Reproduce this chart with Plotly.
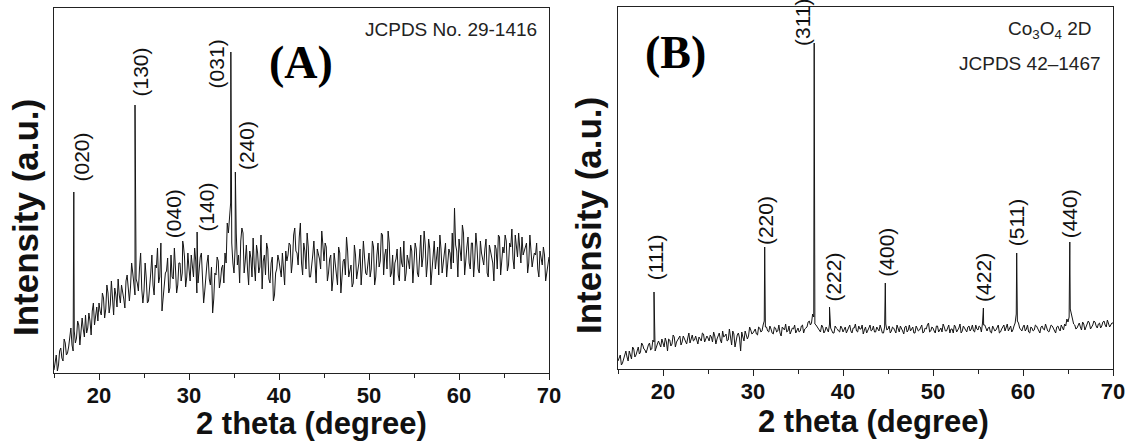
import numpy as np
import plotly.graph_objects as go

# ---- sample grids: 0.25 deg steps plus the half-steps in between ----
theta_grid = np.round(np.arange(15, 70.001, 0.25), 3)
theta_mid = np.round(np.arange(15.125, 70, 0.25), 3)

# ---- panel A (JCPDS 29-1416) ----
a_background = [
    3, 18, 8, 25, 12, 30, 20, 38, 28, 42, 35, 48, 40, 44, 58, 45, 52, 62, 48, 66,
    70, 58, 75, 64, 80, 68, 72, 85, 66, 78, 88, 74, 92, 80, 86, 100, 78, 90, 105, 84,
    82, 95, 72, 100, 88, 108, 125, 96, 62, 90, 102, 80, 118, 94, 104, 88, 110, 100, 116, 96,
    104, 118, 96, 112, 90, 116, 100, 82, 110, 94, 106, 74, 98, 112, 92, 108, 120, 150, 160, 130,
    100, 140, 118, 132, 140, 112, 104, 122, 96, 108, 128, 100, 138, 112, 98, 124, 90, 116, 78, 104,
    112, 96, 108, 122, 118, 128, 112, 145, 120, 136, 110, 130, 104, 126, 96, 118, 108, 124, 114, 142,
    112, 126, 100, 118, 94, 110, 88, 120, 98, 114, 136, 96, 108, 90, 118, 102, 124, 106, 116, 98,
    120, 104, 126, 96, 130, 112, 138, 118, 104, 130, 100, 88, 114, 98, 126, 106, 92, 118, 104, 122,
    108, 124, 96, 138, 116, 128, 110, 124, 102, 132, 114, 98, 124, 110, 130, 116, 120, 140, 165, 122,
    134, 112, 140, 118, 136, 104, 130, 114, 126, 100, 120, 108, 134, 96, 122, 110, 128, 104, 136, 112,
    120, 132, 108, 126, 114, 138, 116, 128, 136, 122, 130, 110, 124, 114, 118, 104, 122, 108, 118, 100,
    116,
]
a_background_mid = [
    10, 2, 22, 15, 34, 18, 26, 45, 22, 30, 52, 28, 55, 36, 40, 60, 38, 70, 55, 52,
    62, 80, 55, 88, 60, 92, 58, 78, 94, 70, 82, 65, 98, 72, 110, 88, 94, 82, 120, 70,
    110, 70, 92, 118, 78, 105, 90, 130, 75, 100, 115, 85, 96, 125, 80, 110, 92, 128, 86, 120,
    92, 108, 125, 80, 104, 120, 70, 98, 118, 88, 60, 100, 116, 85, 105, 90, 110, 140, 170, 110,
    125, 108, 90, 145, 100, 128, 88, 115, 135, 92, 120, 106, 84, 118, 130, 94, 110, 72, 100, 118,
    104, 120, 88, 112, 130, 100, 138, 122, 108, 150, 98, 122, 140, 96, 112, 132, 90, 120, 104, 128,
    130, 92, 114, 82, 120, 104, 126, 80, 112, 98, 122, 104, 86, 128, 94, 110, 88, 132, 100, 114,
    96, 132, 88, 118, 106, 140, 98, 124, 142, 96, 118, 110, 124, 92, 110, 132, 100, 112, 128, 90,
    130, 100, 118, 106, 142, 96, 134, 88, 120, 104, 126, 138, 100, 118, 96, 124, 104, 110, 128, 96,
    118, 148, 98, 126, 110, 130, 96, 140, 104, 132, 114, 124, 100, 128, 116, 92, 124, 138, 98, 126,
    138, 102, 130, 144, 104, 124, 140, 110, 118, 128, 100, 138, 106, 120, 130, 96, 112, 126, 92, 110,
]
a_peak_pos = [17.2, 24.0, 29.3, 30.9, 34.65, 35.15]
a_peak_height = [181, 268, 132, 141, 321, 201]
a_labels = ["(020)", "(130)", "(040)", "(140)", "(031)", "(240)"]
a_label_x = [18.0, 24.56, 28.3, 31.9, 33.1, 36.4]
a_label_y = [191, 276, 135, 141, 285, 203]   # lower end of each rotated label

# ---- panel B (Co3O4 2D, JCPDS 42-1467) ----
b_background = [
    8, 14, 6, 16, 12, 18, 10, 20, 14, 22, 17, 24, 19, 21, 26, 20, 27, 23, 28, 22,
    26, 31, 18, 29, 25, 32, 27, 30, 24, 33, 28, 31, 26, 34, 29, 27, 32, 28, 35, 30,
    31, 34, 27, 33, 30, 36, 26, 32, 35, 29, 33, 38, 22, 34, 31, 37, 28, 35, 33, 39,
    36, 40, 34, 41, 38, 48, 42, 37, 40, 35, 41, 38, 36, 42, 39, 37, 43, 38, 40, 36,
    41, 38, 44, 40, 42, 48, 46, 52, 44, 40, 37, 42, 38, 40, 45, 39, 36, 41, 38, 43,
    37, 42, 39, 44, 36, 41, 38, 43, 40, 35, 42, 38, 44, 39, 37, 42, 38, 41, 36, 45,
    40, 36, 42, 38, 44, 37, 41, 35, 43, 39, 38, 42, 36, 41, 39, 44, 37, 40, 46, 38,
    41, 36, 43, 39, 37, 42, 38, 44, 40, 36, 42, 39, 45, 38, 41, 37, 43, 40, 38, 44,
    39, 42, 46, 44, 38, 42, 36, 41, 39, 44, 37, 42, 38, 45, 40, 37, 43, 55, 46, 40,
    42, 38, 44, 36, 41, 39, 43, 37, 42, 40, 45, 38, 41, 43, 37, 42, 40, 44, 39, 43,
    47, 60, 52, 44, 41, 46, 39, 45, 42, 48, 40, 44, 47, 41, 46, 43, 48, 42, 45, 44,
    46,
]
b_background_mid = [
    12, 4, 10, 18, 8, 14, 22, 12, 18, 15, 26, 20, 16, 24, 19, 29, 18, 25, 24, 30,
    22, 27, 30, 23, 34, 22, 29, 33, 27, 30, 25, 36, 30, 28, 33, 25, 30, 36, 27, 33,
    28, 32, 37, 25, 34, 29, 38, 33, 28, 40, 24, 35, 30, 36, 18, 32, 38, 30, 42, 35,
    38, 35, 42, 37, 44, 42, 38, 43, 36, 42, 37, 44, 33, 40, 45, 38, 35, 41, 44, 39,
    37, 43, 36, 41, 47, 44, 55, 45, 42, 38, 44, 36, 42, 37, 41, 36, 43, 40, 37, 41,
    40, 36, 43, 38, 41, 45, 37, 40, 44, 39, 36, 41, 38, 43, 37, 40, 44, 36, 42, 39,
    43, 38, 41, 36, 40, 43, 38, 42, 37, 44, 40, 36, 43, 38, 42, 36, 41, 44, 37, 42,
    38, 43, 37, 41, 45, 38, 42, 36, 40, 44, 37, 41, 36, 43, 39, 42, 38, 44, 37, 40,
    43, 37, 44, 40, 41, 37, 43, 38, 42, 36, 40, 44, 41, 38, 43, 39, 46, 48, 41, 38,
    44, 40, 37, 42, 38, 44, 40, 36, 43, 39, 41, 37, 44, 40, 36, 43, 38, 41, 45, 50,
    52, 55, 45, 40, 44, 42, 47, 39, 44, 46, 42, 48, 43, 45, 41, 47, 44, 49, 42, 46,
]
b_peak_pos = [19.0, 31.3, 36.8, 38.5, 44.7, 55.6, 59.3, 65.2]
b_peak_height = [77, 122, 326, 62, 86, 61, 116, 127]
b_labels = ["(111)", "(220)", "(311)", "(222)", "(400)", "(422)", "(511)", "(440)"]
b_label_x = [19.2, 31.4, 35.5, 38.9, 44.8, 55.6, 59.3, 65.2]
b_label_y = [87, 124, 322, 67, 92, 67, 122, 131]


def merge(base, mid, pos, height):
    # put grid points, half-step points and peak tops into one sorted trace
    x = np.concatenate([theta_grid, theta_mid, pos])
    y = np.concatenate([np.array(base, float), np.array(mid, float), np.array(height, float)])
    order = np.argsort(x, kind="stable")
    return x[order], y[order]


ax, ay = merge(a_background, a_background_mid, a_peak_pos, a_peak_height)
bx, by = merge(b_background, b_background_mid, b_peak_pos, b_peak_height)

fig = go.Figure()
fig.add_trace(go.Scatter(x=ax, y=ay, mode="lines", line=dict(color="#151515", width=1),
                         xaxis="x", yaxis="y", showlegend=False))
fig.add_trace(go.Scatter(x=bx, y=by, mode="lines", line=dict(color="#151515", width=1),
                         xaxis="x2", yaxis="y2", showlegend=False))

W, H = 1128, 443
font_ax = "Liberation Sans, Arial, sans-serif"
font_serif = "Liberation Serif, Times New Roman, serif"
LABEL_SIZE = 21
LABEL_HALF = 24.5   # half length of a rotated "(hkl)" label, in y units (1 unit = 1 px)

def xaxis_style(domain, anchor):
    return dict(domain=domain, anchor=anchor, range=[15, 70], showline=True, mirror=True,
                linecolor="#222", linewidth=1.3, ticks="outside", ticklen=6, tickwidth=1.3,
                tickcolor="#222", dtick=10, tick0=0, showgrid=False, zeroline=False,
                automargin=False, ticklabelstandoff=-4,
                minor=dict(ticks="outside", ticklen=4, dtick=5, tick0=0, tickcolor="#222"),
                tickprefix="<b>", ticksuffix="</b>",
                tickfont=dict(family=font_ax, size=22, color="#111"))

def yaxis_style(domain, anchor, top):
    return dict(domain=domain, anchor=anchor, range=[0, top], showline=True, mirror=True,
                linecolor="#222", linewidth=1.3, showticklabels=False, ticks="",
                showgrid=False, zeroline=False, automargin=False)

fig.update_layout(
    width=W, height=H, margin=dict(l=0, r=0, t=0, b=0, autoexpand=False),
    paper_bgcolor="white", plot_bgcolor="white",
    xaxis=xaxis_style([54 / W, 549 / W], "y"),
    yaxis=yaxis_style([(H - 373) / H, (H - 7.5) / H], "x", 365.5),
    xaxis2=xaxis_style([618 / W, 1113 / W], "y2"),
    yaxis2=yaxis_style([(H - 369) / H, (H - 7) / H], "x2", 362),
)

ann = []
for labels, lx, ly, xr, yr in [(a_labels, a_label_x, a_label_y, "x", "y"),
                               (b_labels, b_label_x, b_label_y, "x2", "y2")]:
    for txt, x, y in zip(labels, lx, ly):
        ann.append(dict(text=txt, x=x, y=y + LABEL_HALF, xref=xr, yref=yr, textangle=-90,
                        showarrow=False, xanchor="center", yanchor="middle",
                        font=dict(family=font_ax, size=LABEL_SIZE, color="#111")))

def px(x, y, xanchor="center", **kw):
    return dict(x=x / W, y=1 - y / H, xref="paper", yref="paper", showarrow=False,
                xanchor=xanchor, yanchor="middle", **kw)

ann += [
    px(539, 30, "right", text="JCPDS No. 29-1416", font=dict(family=font_ax, size=19, color="#222")),
    px(301, 62, text="<b>(A)</b>", font=dict(family=font_serif, size=46, color="#000")),
    px(1093, 30, "right", text="Co<sub>3</sub>O<sub>4</sub> 2D", font=dict(family=font_ax, size=19, color="#222")),
    px(1103, 63, "right", text="JCPDS 42\u20131467", font=dict(family=font_ax, size=19, color="#222")),
    px(675, 52, text="<b>(B)</b>", font=dict(family=font_serif, size=46, color="#000")),
    px(25, 218, text="<b>Intensity (a.u.)</b>", textangle=-90,
       font=dict(family=font_ax, size=35, color="#111")),
    px(588, 216, text="<b>Intensity (a.u.)</b>", textangle=-90,
       font=dict(family=font_ax, size=35, color="#111")),
    px(311, 423, text="<b>2 theta (degree)</b>", font=dict(family=font_ax, size=31, color="#111")),
    px(873, 421, text="<b>2 theta (degree)</b>", font=dict(family=font_ax, size=31, color="#111")),
]
fig.update_layout(annotations=ann)

fig.write_html("out.html", config={"displayModeBar": False},
               post_script="document.body.style.margin='0';")
